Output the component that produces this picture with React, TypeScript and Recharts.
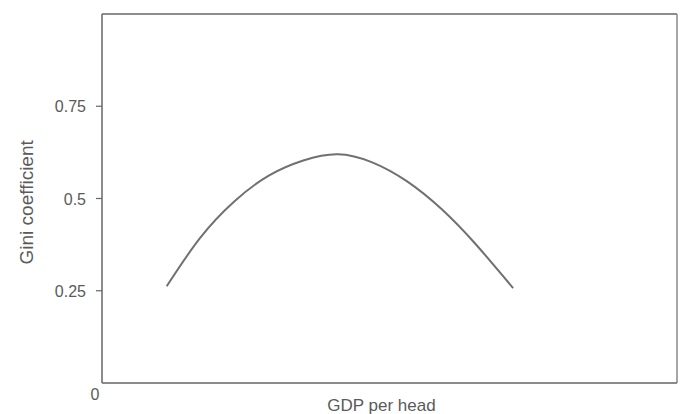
import React from "react";
import { LineChart, Line, XAxis, YAxis, ReferenceLine } from "recharts";

const gdpPerHead = [11.25, 17, 23, 29, 35, 41, 47, 53, 59, 65, 71.5];
const gini = [0.262, 0.392, 0.492, 0.562, 0.603, 0.62, 0.598, 0.547, 0.472, 0.376, 0.257];
const yTicks = [0, 0.25, 0.5, 0.75];
const yTickLabels = ["0", "0.25", "0.5", "0.75"];

const data = gdpPerHead.map((x, i) => ({ x, y: gini[i] }));

const TEXT = "#5a5a5a";
const AXIS = "#666";
const FONT = "'Liberation Sans', Arial, sans-serif";

const YTick = (props: any) => {
  const { y, payload } = props;
  const idx = yTicks.indexOf(payload.value);
  const label = idx >= 0 ? yTickLabels[idx] : String(payload.value);
  if (payload.value === 0) {
    return (
      <text x={95} y={y + 17} textAnchor="middle" fill={TEXT} fontSize={16} fontFamily={FONT}>
        {label}
      </text>
    );
  }
  return (
    <g>
      <line x1={96} x2={102} y1={y} y2={y} stroke={AXIS} strokeWidth={1.2} />
      <text x={86} y={y + 6} textAnchor="end" fill={TEXT} fontSize={16} fontFamily={FONT}>
        {label}
      </text>
    </g>
  );
};

export default function App() {
  return (
    <div style={{ position: "absolute", left: 0, top: 0, width: 681, height: 414, background: "#fff" }}>
      <LineChart
        width={681}
        height={414}
        data={data}
        margin={{ top: 14, right: 4, bottom: 0, left: 0 }}
      >
        <XAxis
          dataKey="x"
          type="number"
          domain={[0, 100]}
          tick={false}
          tickLine={false}
          axisLine={{ stroke: AXIS, strokeWidth: 1.5 }}
          height={31}
          label={{
            value: "GDP per head",
            position: "insideBottom",
            offset: 3,
            dx: -8,
            fill: TEXT,
            fontSize: 17,
            fontFamily: FONT,
          }}
        />
        <YAxis
          type="number"
          domain={[0, 1]}
          ticks={yTicks}
          interval={0}
          width={102}
          tickLine={false}
          tick={<YTick />}
          axisLine={{ stroke: AXIS, strokeWidth: 1.5 }}
          label={{
            value: "Gini coefficient",
            angle: -90,
            position: "insideLeft",
            offset: 26,
            dy: 66,
            fill: TEXT,
            fontSize: 19,
            fontFamily: FONT,
          }}
        />
        <ReferenceLine y={1} stroke={AXIS} strokeWidth={1.5} ifOverflow="extendDomain" />
        <ReferenceLine x={100} stroke="#888" strokeWidth={1.5} ifOverflow="extendDomain" />
        <Line
          type="natural"
          dataKey="y"
          stroke="#707070"
          strokeWidth={2}
          dot={false}
          isAnimationActive={false}
        />
      </LineChart>
    </div>
  );
}
